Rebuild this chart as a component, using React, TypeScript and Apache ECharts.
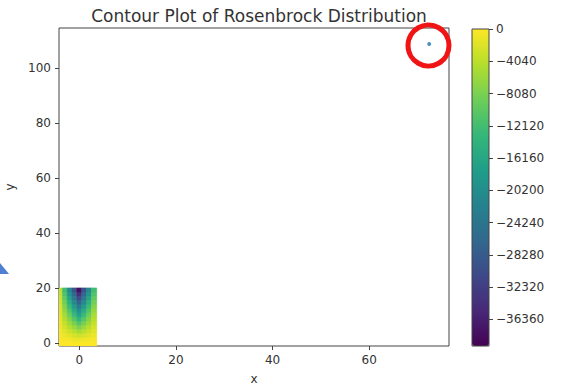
import React, { useEffect, useRef } from "react";
import * as echarts from "echarts";

const titleText = "Contour Plot of Rosenbrock Distribution";
const xTicks = [0, 20, 40, 60];
const yTicks = [0, 20, 40, 60, 80, 100];
const colorbarTicks = [0, -4040, -8080, -12120, -16160, -20200, -24240, -28280, -32320, -36360];
const colorbarMin = -39700;
const colorbarMax = 0;

// heat region (cells) – column and row edges in data units
const heatXEdges = [-4.2, -3.5, -2.5, -1.5, -0.5, 0.5, 1.5, 2.5, 3.6];
const heatYEdges = [-1.1, 0.5, 2, 3.5, 5, 6.5, 8, 9.5, 11, 12.5, 14, 15.5, 17, 18.5, 20];
// rows from bottom to top
const heatValues = [
  [-50, -50, -50, -50, -50, -50, -50, -50],
  [-100, -350, -590, -840, -1090, -840, -590, -350],
  [-270, -970, -1650, -2330, -3030, -2330, -1650, -970],
  [-480, -1710, -2910, -4110, -5340, -4110, -2910, -1710],
  [-710, -2530, -4310, -6090, -7910, -6090, -4310, -2530],
  [-960, -3420, -5830, -8240, -10700, -8240, -5830, -3420],
  [-1230, -4370, -7440, -10510, -13650, -10510, -7440, -4370],
  [-1510, -5370, -9150, -12920, -16780, -12920, -9150, -5370],
  [-1800, -6410, -10920, -15420, -20030, -15420, -10920, -6410],
  [-2110, -7490, -12760, -18030, -23420, -18030, -12760, -7490],
  [-2420, -8610, -14670, -20730, -26920, -20730, -14670, -8610],
  [-2750, -9770, -16640, -23520, -30540, -23520, -16640, -9770],
  [-3080, -10960, -18670, -26370, -34250, -26370, -18670, -10960],
  [-3430, -12180, -20740, -29310, -38060, -29310, -20740, -12180],
];

const scatterPoints = [[72.4, 108.7]];

const viridis = [
  "#440154", "#482878", "#3e4989", "#31688e", "#26828e",
  "#1f9e89", "#35b779", "#6ece58", "#b5de2b", "#fde725",
];

const FONT = "DejaVu Sans";
const TEXT = "#333";
const TICK_FS = 12;

export default function App() {
  const ref = useRef<HTMLDivElement>(null);
  useEffect(() => {
    if (!ref.current) return;
    const chart = echarts.init(ref.current, null, { renderer: "svg" });

    const cells: number[][] = [];
    for (let r = 0; r < heatValues.length; r++) {
      for (let c = 0; c < heatValues[r].length; c++) {
        cells.push([heatXEdges[c], heatXEdges[c + 1], heatYEdges[r], heatYEdges[r + 1], heatValues[r][c]]);
      }
    }

    const fmtMinus = (v: number) => String(v).replace("-", "\u2212");

    chart.setOption({
      animation: false,
      title: {
        text: titleText,
        left: 254,
        top: 2,
        textAlign: "center",
        textStyle: { fontFamily: FONT, fontSize: 17, fontWeight: "normal", color: TEXT },
      },
      grid: [
        { left: 59, top: 28, width: 390, height: 318, show: true, borderColor: "#444", borderWidth: 1, backgroundColor: "transparent", outerBoundsMode: "none", containLabel: false },
        { left: 472, top: 29, width: 17, height: 317, show: true, borderColor: "#444", borderWidth: 1, backgroundColor: "transparent", z: 5, outerBoundsMode: "none", containLabel: false },
      ],
      xAxis: [
        {
          gridIndex: 0,
          type: "value",
          min: -4.2,
          max: 76.5,
          name: "x",
          nameLocation: "middle",
          nameGap: 27,
          nameTextStyle: { fontFamily: FONT, fontSize: TICK_FS, color: TEXT },
          axisLine: { show: false, onZero: false },
          splitLine: { show: false },
          axisTick: { show: true, length: 4, lineStyle: { color: "#444" }, customValues: xTicks },
          axisLabel: { fontFamily: FONT, fontSize: TICK_FS, color: TEXT, margin: 8, customValues: xTicks },
        },
        {
          gridIndex: 1,
          type: "value",
          min: 0,
          max: 1,
          show: false,
        },
      ],
      yAxis: [
        {
          gridIndex: 0,
          type: "value",
          min: -1.1,
          max: 114.5,
          name: "y",
          nameLocation: "middle",
          nameGap: 43,
          nameRotate: 90,
          nameTextStyle: { fontFamily: FONT, fontSize: TICK_FS, color: TEXT },
          axisLine: { show: false, onZero: false },
          splitLine: { show: false },
          axisTick: { show: true, length: 4, lineStyle: { color: "#444" }, customValues: yTicks },
          axisLabel: { fontFamily: FONT, fontSize: TICK_FS, color: TEXT, margin: 8, customValues: yTicks },
        },
        {
          gridIndex: 1,
          type: "value",
          position: "right",
          min: colorbarMin,
          max: colorbarMax,
          axisLine: { show: false, onZero: false },
          splitLine: { show: false },
          axisTick: { show: true, length: 4, lineStyle: { color: "#444" }, customValues: colorbarTicks },
          axisLabel: {
            fontFamily: FONT,
            fontSize: TICK_FS,
            color: TEXT,
            margin: 7,
            customValues: colorbarTicks,
            formatter: (v: number) => fmtMinus(v),
          },
        },
      ],
      visualMap: {
        type: "continuous",
        min: colorbarMin,
        max: colorbarMax,
        dimension: 4,
        seriesIndex: 0,
        inRange: { color: viridis },
        left: 472,
        top: 29,
        itemWidth: 17,
        itemHeight: 317,
        padding: 0,
        calculable: false,
        hoverLink: false,
        text: null,
        showLabel: false,
        realtime: false,
      },
      series: [
        {
          type: "custom",
          xAxisIndex: 0,
          yAxisIndex: 0,
          clip: true,
          data: cells,
          dimensions: ["x0", "x1", "y0", "y1", "value"],
          encode: { x: [0, 1], y: [2, 3] },
          renderItem: (params: any, api: any) => {
            const p0 = api.coord([api.value(0), api.value(3)]);
            const p1 = api.coord([api.value(1), api.value(2)]);
            const color = api.visual("color");
            return {
              type: "rect",
              shape: { x: p0[0], y: p0[1], width: p1[0] - p0[0], height: p1[1] - p0[1] },
              style: { fill: color, stroke: color, lineWidth: 0.6 },
            };
          },
          z: 1,
        },
        {
          type: "scatter",
          xAxisIndex: 0,
          yAxisIndex: 0,
          data: scatterPoints,
          symbolSize: 4,
          itemStyle: { color: "#1f77b4" },
          z: 3,
        },
      ],
      graphic: [
        {
          type: "circle",
          shape: { cx: 428.5, cy: 45.5, r: 20.5 },
          style: { fill: "none", stroke: "#f01414", lineWidth: 5 },
          z: 100,
        },
        {
          type: "polygon",
          shape: { points: [[0, 263], [9, 274], [0, 274]] },
          style: { fill: "#4f7fd0" },
          z: 100,
        },
      ],
    });

    return () => chart.dispose();
  }, []);

  return (
    <div
      ref={ref}
      style={{ position: "absolute", left: 0, top: 0, width: 578, height: 389, background: "#fff" }}
    />
  );
}
